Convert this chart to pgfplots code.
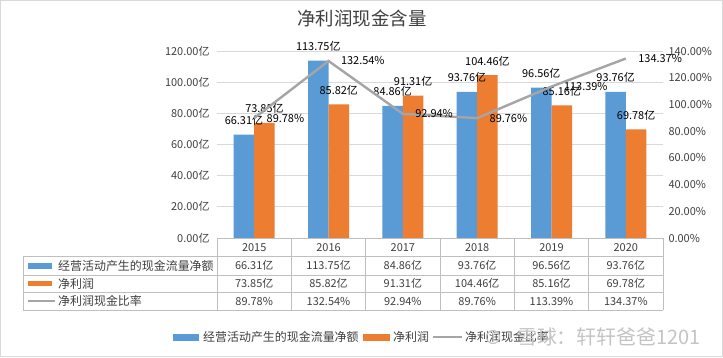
\documentclass[border=0pt]{standalone}
\usepackage{pgfplots}
\pgfplotsset{compat=1.18}
\usepackage{fontspec}
\setmainfont{Noto Sans CJK SC}
\definecolor{cblue}{HTML}{5B9BD5}
\definecolor{corange}{HTML}{ED7D31}
\definecolor{cgray}{HTML}{A5A5A5}
\definecolor{cgrid}{HTML}{D9D9D9}
\definecolor{ctext}{HTML}{404040}
\definecolor{ctab}{HTML}{BFBFBF}
\definecolor{cwm}{HTML}{C4C4C4}
\pgfplotsset{/pgf/number format/assume math mode=true}
\newcommand{\lab}{\fontsize{11}{13}\selectfont}
\newcommand{\cjk}{\fontsize{12}{14}\selectfont}
\begin{document}
\begin{tikzpicture}[x=1bp,y=1bp]
\useasboundingbox (0,0) rectangle (723,357);
\fill[white] (0,0) rectangle (723,357);
\draw[cgrid] (0.5,0.5) rectangle (722.5,356.5);
\node[font=\fontsize{18.5}{20}\selectfont, text=ctext] at (362,339) {净利润现金含量};

\begin{axis}[at={(217bp,119bp)}, anchor=south west, scale only axis,
  width=446bp, height=187bp, xmin=-0.5, xmax=5.5, ymin=0, ymax=120,
  ytick={0,20,40,60,80,100,120},
  yticklabels={0.00亿,20.00亿,40.00亿,60.00亿,80.00亿,100.00亿,120.00亿},
  xtick=\empty, ymajorgrids, grid style={cgrid, line width=0.75bp},
  axis line style={draw=none}, major tick length=0pt,
  ybar=0pt, bar width=20.5bp, clip=false,
  yticklabel style={font=\lab, text=ctext, xshift=-4bp},
  nodes near coords={\pgfmathprintnumber[fixed,precision=2,zerofill]{\pgfplotspointmeta}亿},
  every node near coord/.append style={font=\lab, text=black, yshift=8bp, inner sep=1bp}]
\addplot[fill=cblue, draw=none] coordinates {(0,66.31) (1,113.75) (2,84.86) (3,93.76) (4,96.56) (5,93.76)};
\addplot[fill=corange, draw=none] coordinates {(0,73.85) (1,85.82) (2,91.31) (3,104.46) (4,85.16) (5,69.78)};
\end{axis}

\begin{axis}[at={(217bp,119bp)}, anchor=south west, scale only axis,
  width=446bp, height=187bp, xmin=-0.5, xmax=5.5, ymin=0, ymax=140,
  ytick={0,20,40,60,80,100,120,140},
  yticklabels={0.00\%,20.00\%,40.00\%,60.00\%,80.00\%,100.00\%,120.00\%,140.00\%},
  yticklabel pos=right,
  xtick=\empty, axis line style={draw=none}, major tick length=0pt, clip=false,
  yticklabel style={font=\lab, text=ctext, anchor=west, xshift=2bp}]
\addplot[cgray, line width=2.4bp, mark=none,
  nodes near coords={\pgfmathprintnumber[fixed,precision=2,zerofill]{\pgfplotspointmeta}\%},
  nodes near coords align={horizontal},
  every node near coord/.append style={font=\lab, text=black, anchor=west, xshift=8bp}]
  coordinates {(0,89.78) (1,132.54) (2,92.94) (3,89.76) (4,113.39) (5,134.37)};
\end{axis}

% data table
\begin{scope}[ctab, line width=0.75bp]
\draw (217,119) -- (663,119);
\foreach \y in {100.5,82,65,47} \draw (23,\y) -- (663,\y);
\draw (23,100.5) -- (23,47);
\foreach \x in {217,291.33,365.67,440,514.33,588.67,663} \draw (\x,119) -- (\x,47);
\end{scope}
\foreach \t [count=\i from 0] in {2015,2016,2017,2018,2019,2020}
  \node[font=\lab, text=ctext] at (254.17+74.33*\i,109.5) {\t};
\foreach \t [count=\i from 0] in {66.31亿,113.75亿,84.86亿,93.76亿,96.56亿,93.76亿}
  \node[font=\lab, text=ctext] at (254.17+74.33*\i,91.25) {\t};
\foreach \t [count=\i from 0] in {73.85亿,85.82亿,91.31亿,104.46亿,85.16亿,69.78亿}
  \node[font=\lab, text=ctext] at (254.17+74.33*\i,73.5) {\t};
\foreach \t [count=\i from 0] in {89.78\%,132.54\%,92.94\%,89.76\%,113.39\%,134.37\%}
  \node[font=\lab, text=ctext] at (254.17+74.33*\i,56) {\t};
\fill[cblue] (28,88.5) rectangle (52,94);
\fill[corange] (28,71) rectangle (52,76.5);
\draw[cgray, line width=2.4bp] (28,56) -- (55,56);
\node[font=\cjk, text=ctext, anchor=west, inner sep=0pt] at (58,91.25) {经营活动产生的现金流量净额};
\node[font=\cjk, text=ctext, anchor=west, inner sep=0pt] at (58,73.5) {净利润};
\node[font=\cjk, text=ctext, anchor=west, inner sep=0pt] at (58,56) {净利润现金比率};

% legend
\fill[cblue] (173,16.5) rectangle (199,23.5);
\node[font=\cjk, text=ctext, anchor=west, inner sep=0pt] at (203,20) {经营活动产生的现金流量净额};
\fill[corange] (363,16.5) rectangle (390,23.5);
\node[font=\cjk, text=ctext, anchor=west, inner sep=0pt] at (393,20) {净利润};
\draw[cgray, line width=2.4bp] (433,20) -- (462,20);
\node[font=\cjk, text=ctext, anchor=west, inner sep=0pt] at (465,20) {净利润现金比率};

% watermark
\draw[cwm, line width=1.2bp] (493,20) circle (6.5);
\node[font=\fontsize{20}{22}\selectfont, text=cwm, anchor=east, inner sep=0pt] at (701,20) {雪球：轩轩爸爸1201};
\end{tikzpicture}
\end{document}
